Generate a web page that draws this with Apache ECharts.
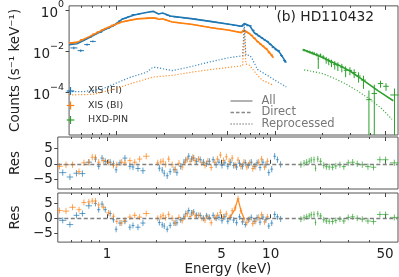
<!DOCTYPE html>
<html><head><meta charset="utf-8">
<script src="https://cdn.jsdelivr.net/npm/echarts@6/dist/echarts.min.js"></script>
<style>html,body{margin:0;padding:0;background:#fff}#c{width:399px;height:277px}</style>
</head><body><div id="c"></div>
<script>
// ---------------- data ----------------
// XIS (FI) spectrum: energies (keV), counts (s^-1 keV^-1), relative errors, residuals (two models)
const fiE = [0.536,0.593,0.650,0.707,0.774,0.849,0.889,0.932,0.975,1.045,1.094,1.136,1.200,1.286,1.379,1.440,1.545,1.657,
  2.088,2.173,2.236,2.331,2.430,2.566,2.673,2.818,2.949,3.030,3.156,3.288,3.387,3.527,3.71,3.89,4.05,4.22,4.45,4.64,
  4.83,5.04,5.25,5.47,5.70,5.94,6.19,6.45,6.72,7.00,7.30,7.61,7.93,8.26,8.61,8.97,9.35,9.74,10.15,10.58,11.0,11.5];
const fiCts = [0.0145,0.0107,0.021,0.030,0.083,0.122,0.134,0.165,0.2,0.295,0.376,0.40,0.485,0.6,0.64,0.68,0.755,0.82,
  0.57,0.5,0.485,0.46,0.445,0.43,0.41,0.395,0.383,0.375,0.362,0.343,0.332,0.316,0.3,0.283,0.269,0.258,0.244,0.229,
  0.22,0.207,0.199,0.186,0.18,0.168,0.164,0.2,0.174,0.17,0.104,0.07,0.055,0.045,0.0355,0.0297,0.0218,0.0155,0.0122,0.0105,0.0062,0.0035];
const fiErrF = [0.15,0.15,0.12,0.1,0.07,0.05,0.05,0.045,0.04,0.035,0.03,0.03,0.03,0.03,0.03,0.03,0.03,0.03,
  0.04,0.04,0.04,0.04,0.04,0.04,0.04,0.04,0.04,0.04,0.04,0.04,0.04,0.04,0.04,0.04,0.045,0.045,0.045,0.045,
  0.05,0.05,0.05,0.05,0.05,0.05,0.05,0.05,0.05,0.05,0.06,0.07,0.07,0.08,0.08,0.09,0.1,0.1,0.12,0.12,0.14,0.18];
const fiRes1 = [-2.8,-4.2,-3.0,-3.1,0.5,1.5,-0.8,1.8,0.8,0.5,0.0,-1.9,0.3,1.8,-0.8,-1.0,-1.5,-2.2,
  -1.4,-2.0,-3.0,-3.8,-2.5,-1.9,-2.8,-0.8,0.5,1.2,2.4,1.5,1.8,0.8,1.3,0.5,0.0,0.8,1.3,-0.3,
  0.5,-0.5,0.3,-0.8,0.5,-0.5,-1.0,0.2,-0.8,0.3,-0.5,0.5,-0.8,0.3,-1.2,0.5,-0.3,-2.8,-1.7,2.4,1.3,-0.2];
const fiRes2 = [-0.7,-2.1,1.0,1.6,4.2,5.0,2.9,4.8,2.9,1.6,-0.5,-3.7,-1.6,-1.0,-3.0,-2.4,-3.0,-1.6,
  -1.4,-2.2,-2.6,-3.7,-2.4,-1.6,-1.5,-0.5,0.5,1.6,2.6,1.8,2.1,1.0,1.0,0.0,0.8,0.3,1.0,0.0,
  0.3,-0.8,0.5,-1.0,0.3,-0.6,-1.5,0.5,-1.2,-2.1,-0.5,0.3,-1.0,0.2,-1.3,0.4,-0.5,-2.6,-1.6,1.3,0.5,-0.2];

// XIS (BI)
const biE = [0.512,0.561,0.615,0.674,0.722,0.774,0.812,0.849,0.889,0.953,1.02,1.094,1.147,1.229,1.286,1.379,1.476,1.582,1.736,
  2.04,2.13,2.20,2.28,2.38,2.50,2.62,2.75,2.88,3.0,3.10,3.22,3.34,3.46,3.62,3.80,3.97,4.13,4.33,4.55,
  4.73,4.93,5.15,5.36,5.58,5.82,6.07,6.32,6.58,6.86,7.15,7.45,7.77,8.10,8.44,8.80,9.17,9.55];
const biCts = [0.0245,0.027,0.037,0.047,0.068,0.09,0.11,0.128,0.146,0.185,0.228,0.27,0.29,0.327,0.348,0.38,0.39,0.41,0.41,
  0.333,0.3,0.277,0.258,0.253,0.237,0.224,0.218,0.207,0.201,0.194,0.183,0.177,0.167,0.157,0.146,0.137,0.133,0.124,0.12,
  0.116,0.112,0.105,0.1,0.093,0.088,0.084,0.103,0.084,0.072,0.059,0.043,0.029,0.0223,0.0175,0.0136,0.0089,0.0065];
const biErrF = [0.12,0.1,0.08,0.07,0.06,0.05,0.05,0.045,0.04,0.04,0.035,0.035,0.035,0.035,0.035,0.035,0.035,0.035,0.035,
  0.04,0.04,0.04,0.04,0.04,0.04,0.04,0.04,0.04,0.04,0.045,0.045,0.045,0.045,0.045,0.045,0.045,0.045,0.045,0.045,
  0.05,0.05,0.05,0.05,0.05,0.05,0.05,0.05,0.05,0.05,0.06,0.07,0.08,0.09,0.1,0.11,0.13,0.15];
const biRes1 = [-0.8,-0.3,-0.3,-2.5,0.3,0.5,2.1,2.0,0.5,1.0,0.5,-0.5,-0.3,0.5,0.3,1.0,0.5,1.5,2.4,
  0.3,0.6,0.8,-0.2,1.5,-0.3,-1.8,0.2,-1.0,0.5,1.5,0.8,2.0,1.0,1.5,0.3,-0.5,0.8,-1.2,0.5,
  1.5,2.8,1.0,2.2,0.8,1.8,-0.5,1.2,-0.8,0.5,-1.0,0.3,-1.5,-0.8,0.5,1.5,-1.0,0.8];
const biRes2 = [2.6,2.4,3.7,2.9,5.3,5.5,5.8,5.8,4.5,3.7,1.8,0.7,-1.0,-1.6,-0.7,0.4,1.0,0.4,1.6,
  0.0,0.5,1.0,0.2,1.3,0.0,-1.6,0.3,-0.8,0.5,1.5,0.6,1.8,0.8,1.0,0.0,-0.6,0.5,-1.5,0.3,
  1.0,2.0,0.5,1.5,0.2,2.5,3.5,6.6,2.5,-0.5,-1.5,-0.3,-1.8,-1.0,0.3,1.2,-1.2,0.5];
// residual trace of the Fe line (model 2, XIS BI)
const biFeE = [5.63,6.03,6.31,6.60,6.92];
const biFeRes = [0.2,2.9,6.6,2.3,-0.3];

// HXD-PIN
const pinE = [15.3,16.0,16.6,17.2,17.7,18.4,18.8,19.4,20.2,21.1,21.9,22.8,23.9,25.0,26.5,28.0,29.8,31.7,33.8,36.3,39.3,42.5,46.5,50.4,57.0];
const pinCts = [0.0113,0.0101,0.0092,0.0084,0.0079,0.007,0.0042,0.0065,0.0053,0.0039,0.0033,0.0028,0.0023,0.002,0.0017,
  0.0012,0.00118,0.00092,0.00063,0.0004,0.000045,0.00009,0.00027,0.0002,0.000076];
const pinErr = [0.0015,0.0014,0.0014,0.0014,0.0014,0.0013,0.0028,0.0013,0.0012,0.0014,0.0012,0.0011,0.001,0.0009,0.00075,
  0.00065,0.0005,0.00042,0.00033,0.00025,0.00008,0.00015,0.0001,0.00008,0.00008];
const pinRes = [-0.3,0.2,0.5,0.8,1.2,1.3,-1.4,1.5,0.8,-0.5,-0.9,-1.0,-1.1,-0.7,-0.3,-0.9,0.3,0.5,0.0,-0.3,-0.9,-1.1,1.3,1.3,0.3];

// Models: All
const fiModE = [0.50,0.56,0.64,0.74,0.85,0.95,1.09,1.29,1.48,1.70,1.74,1.84,1.95,2.18,2.95,3.89,5.13,6.14,6.30,6.40,6.50,6.92,7.11,7.41,8.91,10.67,11.8];
const fiModY = [0.021,0.023,0.038,0.068,0.117,0.17,0.37,0.575,0.72,0.87,0.89,0.645,0.71,0.51,0.38,0.282,0.204,0.162,0.182,0.219,0.182,0.174,0.158,0.079,0.030,0.0091,0.0028];
const biModE = [0.50,0.56,0.67,0.85,1.07,1.35,1.70,1.84,1.95,2.24,2.95,3.89,5.13,6.14,6.30,6.40,6.50,6.92,7.11,7.76,8.91,9.8];
const biModY = [0.0251,0.0269,0.0513,0.126,0.263,0.372,0.417,0.355,0.372,0.263,0.204,0.141,0.105,0.0794,0.089,0.105,0.089,0.0708,0.063,0.0302,0.012,0.0049];
const pinModE = [15,20,25,30,35,40,45,50,56];
const pinModY = [0.012,0.005,0.00224,0.00107,0.000468,0.000229,0.00012,0.0000708,0.0000398];
// Models: Reprocessed
const fiRepE = [0.50,0.615,0.81,0.975,1.23,1.545,1.69,1.77,2.24,2.82,3.72,5.13,6.25,6.40,6.55,6.92,7.11,7.76,8.91,10.2,11.8];
const fiRepY = [1.10e-4,1.10e-4,1.48e-4,2.69e-4,5.62e-4,9.55e-4,1.66e-3,1.66e-3,1.15e-3,1.66e-3,2.82e-3,4.9e-3,6.03e-3,0.219,6.6e-3,6.3e-3,5.0e-3,1.32e-3,6.9e-4,3.63e-4,1.86e-4];
const biRepE = [0.50,0.707,0.975,1.23,1.695,2.236,2.95,3.8,5.13,6.25,6.40,6.55,6.92,7.11,7.76,8.35,9.8];
const biRepY = [7.59e-5,8.13e-5,1.48e-4,2.69e-4,5.62e-4,6.76e-4,9.55e-4,1.26e-3,1.66e-3,2.0e-3,0.0741,2.4e-3,2.09e-3,1.78e-3,6.76e-4,3.89e-4,2.24e-4];
const pinRepE = [15.3,20,23.5,28,33.9,39,46.9,55];
const pinRepY = [1.26e-3,8.3e-4,5.0e-4,2.63e-4,1.1e-4,5.25e-5,1.78e-5,5.0e-6];

// Axis ticks
const xMajor = [1,5,10,50];
const xMinor = [0.6,0.7,0.8,0.9,2,3,4,6,7,8,9,20,30,40];
const yLogLabels = [1e-4,1e-2,1];
const resLabels = [-5,0,5];

// ---------------- chart ----------------
const FONT = 'DejaVu Sans';
const C_FI = '#1f77b4', C_BI = '#ff7f0e', C_PIN = '#2ca02c';
const X_MIN = 0.5, X_MAX = 60, Y_MIN = 8.7e-7, Y_MAX = 1.585, R_MIN = -8, R_MAX = 8.5;
const FRAME = '#555';

function halfW(E){
  return E.map((e,i)=>{
    const l = i>0 ? Math.log10(e/E[i-1]) : Infinity;
    const r = i<E.length-1 ? Math.log10(E[i+1]/e) : Infinity;
    return Math.min(l,r)/2;
  });
}
function rows(E, Y, lo, hi){
  const h = halfW(E);
  return E.map((e,i)=>[e, Y[i], e/Math.pow(10,h[i]), e*Math.pow(10,h[i]), lo[i], hi[i]]);
}
function crossSeries(name, data, color, xi, yi, opacity, extra){
  return Object.assign({
    type:'custom', name, xAxisIndex:xi, yAxisIndex:yi, clip:true, silent:true,
    itemStyle:{color}, encode:{x:0,y:1}, data,
    renderItem:(params, api)=>{
      const e=api.value(0), y=api.value(1), el=api.value(2), eh=api.value(3), yl=api.value(4), yh=api.value(5);
      const pL=api.coord([el,y]), pR=api.coord([eh,y]), pT=api.coord([e,yh]), pB=api.coord([e,yl]);
      const st={stroke:color,lineWidth:1,opacity:opacity};
      return {type:'group',children:[
        {type:'line',shape:{x1:pL[0],y1:pL[1],x2:pR[0],y2:pR[1]},style:st},
        {type:'line',shape:{x1:pT[0],y1:pT[1],x2:pB[0],y2:pB[1]},style:st}
      ]};
    }
  }, extra||{});
}
function lineSeries(name, E, Y, color, xi, yi, type, width, opacity){
  return {type:'line', name, xAxisIndex:xi, yAxisIndex:yi, showSymbol:false, symbol:'none', silent:true,
    data:E.map((e,i)=>[e,Y[i]]), lineStyle:{color, width, type, opacity}, z:3};
}

const floorV = Y_MIN/100;
const fiData = rows(fiE, fiCts, fiCts.map((v,i)=>v*(1-fiErrF[i])), fiCts.map((v,i)=>v*(1+fiErrF[i])));
const biData = rows(biE, biCts, biCts.map((v,i)=>v*(1-biErrF[i])), biCts.map((v,i)=>v*(1+biErrF[i])));
const pinData = rows(pinE, pinCts, pinCts.map((v,i)=>Math.max(v-pinErr[i], floorV)), pinCts.map((v,i)=>v+pinErr[i]));
function resRows(E, R){ return rows(E, R, R.map(r=>r-1), R.map(r=>r+1)); }

const grids = [
  {left:52, right:1, top:2, height:133},
  {left:52, right:1, top:137, height:52},
  {left:52, right:1, top:193, height:51}
].map(g=>Object.assign(g,{show:true, borderColor:FRAME, borderWidth:1, backgroundColor:'transparent', containLabel:false}));

const tickCol = '#444';
function xAxesFor(gi, last){
  const base = {type:'log', logBase:10, min:X_MIN, max:X_MAX, gridIndex:gi, splitLine:{show:false}, axisLine:{show:false}};
  return [
    Object.assign({}, base, {position:'bottom',
      axisTick:{show:true, inside:true, length:4, customValues:xMajor, lineStyle:{color:tickCol}},
      axisLabel:{show:last, customValues:xMajor, margin:5, fontSize:13.5, color:'#222', fontFamily:FONT, formatter:v=>String(+v)},
      name: last ? 'Energy (keV)' : '', nameLocation:'middle', nameGap:17,
      nameTextStyle:{fontSize:13.5, color:'#222', fontFamily:FONT}}),
    Object.assign({}, base, {position:'bottom', axisTick:{show:true, inside:true, length:2, customValues:xMinor, lineStyle:{color:tickCol}}, axisLabel:{show:false}}),
    Object.assign({}, base, {position:'top', axisTick:{show:true, inside:true, length:4, customValues:xMajor, lineStyle:{color:tickCol}}, axisLabel:{show:false}}),
    Object.assign({}, base, {position:'top', axisTick:{show:true, inside:true, length:2, customValues:xMinor, lineStyle:{color:tickCol}}, axisLabel:{show:false}})
  ];
}
const xAxis = [].concat(xAxesFor(0,false), xAxesFor(1,false), xAxesFor(2,true));

const supFmt = v=>{ const e=Math.round(Math.log10(v)); return '{b|10}{s|'+(e<0?'\u2212'+(-e):e)+'}'; };
const yAxis = [
  {type:'log', logBase:10, gridIndex:0, min:Y_MIN, max:Y_MAX, position:'left', splitLine:{show:false}, axisLine:{show:false},
   axisTick:{show:true, inside:false, length:3.5, customValues:yLogLabels, lineStyle:{color:tickCol}},
   axisLabel:{customValues:yLogLabels, margin:5, formatter:supFmt, color:'#222', fontFamily:FONT,
     rich:{b:{fontSize:13.5, fontFamily:FONT, color:'#222', verticalAlign:'bottom', lineHeight:20},
           s:{fontSize:9.5, fontFamily:FONT, color:'#222', verticalAlign:'top', lineHeight:20}}},
   name:'Counts (s\u207B\u00B9 keV\u207B\u00B9)', nameLocation:'middle', nameGap:34,
   nameTextStyle:{fontSize:13.5, color:'#222', fontFamily:FONT}},
  {type:'value', gridIndex:1, min:R_MIN, max:R_MAX, position:'left', splitLine:{show:false}, axisLine:{show:false},
   axisTick:{show:true, inside:false, length:3.5, customValues:resLabels, lineStyle:{color:tickCol}},
   axisLabel:{customValues:resLabels, margin:5, fontSize:13.5, color:'#222', fontFamily:FONT, formatter:v=>v<0?'\u2212'+(-v):String(v)},
   name:'Res', nameLocation:'middle', nameGap:27, nameTextStyle:{fontSize:13.5, color:'#222', fontFamily:FONT}},
  {type:'value', gridIndex:2, min:R_MIN, max:R_MAX, position:'left', splitLine:{show:false}, axisLine:{show:false},
   axisTick:{show:true, inside:false, length:3.5, customValues:resLabels, lineStyle:{color:tickCol}},
   axisLabel:{customValues:resLabels, margin:5, fontSize:13.5, color:'#222', fontFamily:FONT, formatter:v=>v<0?'\u2212'+(-v):String(v)},
   name:'Res', nameLocation:'middle', nameGap:27, nameTextStyle:{fontSize:13.5, color:'#222', fontFamily:FONT}}
];

const zeroLine = {markLine:{silent:true, symbol:['none','none'], label:{show:false}, animation:false,
  lineStyle:{type:[4,2.5], color:'#808080', width:1.3}, data:[{yAxis:0}]}};

const series = [
  crossSeries('XIS (FI)', fiData, C_FI, 0, 0, 1),
  crossSeries('XIS (BI)', biData, C_BI, 0, 0, 1),
  crossSeries('HXD-PIN', pinData, C_PIN, 0, 0, 1),
  lineSeries('FI all', fiModE, fiModY, C_FI, 0, 0, 'solid', 1.6, 1),
  lineSeries('BI all', biModE, biModY, C_BI, 0, 0, 'solid', 1.6, 1),
  lineSeries('PIN all', pinModE, pinModY, C_PIN, 0, 0, 'solid', 1.6, 1),
  lineSeries('FI rep', fiRepE, fiRepY, C_FI, 0, 0, [1.2,1.8], 1.2, 0.85),
  lineSeries('BI rep', biRepE, biRepY, C_BI, 0, 0, [1.2,1.8], 1.2, 0.85),
  lineSeries('PIN rep', pinRepE, pinRepY, C_PIN, 0, 0, [1.2,1.8], 1.2, 0.85),
  crossSeries('FI res1', resRows(fiE, fiRes1), C_FI, 4, 1, 0.7, zeroLine),
  crossSeries('BI res1', resRows(biE, biRes1), C_BI, 4, 1, 0.7),
  crossSeries('PIN res1', resRows(pinE, pinRes), C_PIN, 4, 1, 0.7),
  crossSeries('FI res2', resRows(fiE, fiRes2), C_FI, 8, 2, 0.7, zeroLine),
  crossSeries('BI res2', resRows(biE, biRes2), C_BI, 8, 2, 0.7),
  crossSeries('PIN res2', resRows(pinE, pinRes), C_PIN, 8, 2, 0.7),
  lineSeries('BI Fe res2', biFeE, biFeRes, C_BI, 8, 2, 'solid', 1.3, 0.9)
];

// legends (drawn as graphic elements)
const g = [];
[['XIS (FI)',C_FI,91],['XIS (BI)',C_BI,105.5],['HXD-PIN',C_PIN,120]].forEach(([t,c,y])=>{
  g.push({type:'line', shape:{x1:66.7,y1:y,x2:74.3,y2:y}, style:{stroke:c,lineWidth:1.2}});
  g.push({type:'line', shape:{x1:70.5,y1:y-4,x2:70.5,y2:y+4}, style:{stroke:c,lineWidth:1.2}});
  g.push({type:'text', x:88, y:y, style:{text:t, fontSize:9.5, fontFamily:FONT, fill:'#333', verticalAlign:'middle'}});
});
[['All','solid',101],['Direct',[3.5,2],112.5],['Reprocessed',[1.2,1.8],124]].forEach(([t,d,y])=>{
  g.push({type:'line', shape:{x1:230.5,y1:y,x2:252.5,y2:y}, style:{stroke:'#888',lineWidth:1.3,lineDash:d==='solid'?null:d}});
  g.push({type:'text', x:261.5, y:y, style:{text:t, fontSize:11.5, fontFamily:FONT, fill:'#777', verticalAlign:'middle'}});
});

const chart = echarts.init(document.getElementById('c'), null, {renderer:'canvas'});
chart.setOption({
  animation:false,
  textStyle:{fontFamily:FONT},
  title:{text:'(b) HD110432', right:20, top:5, textStyle:{fontSize:13.8, fontWeight:'normal', color:'#222', fontFamily:FONT}},
  grid:grids, xAxis, yAxis, series, graphic:g
});
</script></body></html>
